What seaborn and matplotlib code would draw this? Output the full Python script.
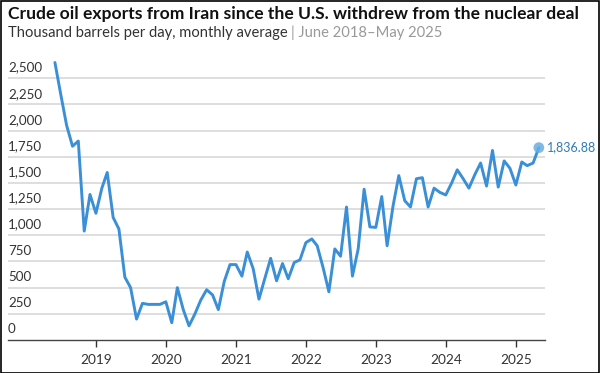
import pandas as pd
import matplotlib.pyplot as plt
import matplotlib.dates as mdates
from matplotlib.patches import Rectangle
import seaborn as sns

# monthly exports, thousand barrels per day (June 2018 - May 2025)
months = pd.date_range("2018-06-01", "2025-05-01", freq="MS")
exports = [
    2650, 2350, 2050, 1850, 1900, 1040, 1390, 1210, 1450, 1600, 1170, 1060,
    600, 500, 200, 350, 340, 340, 340, 365, 165, 500, 290, 135,
    250, 380, 480, 430, 290, 560, 720, 720, 610, 840, 680, 390,
    590, 780, 565, 730, 585, 740, 765, 930, 965, 900, 690, 460,
    870, 800, 1270, 610, 870, 1440, 1080, 1075, 1370, 900, 1280, 1570,
    1330, 1270, 1540, 1550, 1270, 1450, 1410, 1385, 1500, 1625, 1540, 1450,
    1580, 1690, 1470, 1810, 1460, 1710, 1640, 1480, 1700, 1665, 1690, 1836.88,
]
y_ticks = [0, 250, 500, 750, 1000, 1250, 1500, 1750, 2000, 2250, 2500]
year_ticks = [2019, 2020, 2021, 2022, 2023, 2024, 2025]

df = pd.DataFrame({"month": months, "exports": exports})

sns.set_theme(style="white")
plt.rcParams["font.family"] = ["Lato", "DejaVu Sans"]

line_color = "#3a8fd6"

fig = plt.figure(figsize=(6, 3.73), dpi=100)
ax = fig.add_axes([0.0133, 0.0885, 0.895, 0.758])

sns.lineplot(data=df, x="month", y="exports", ax=ax, color=line_color,
             linewidth=2.1, solid_joinstyle="round", solid_capstyle="round")

# last point marker and label
last = df.iloc[-1]
ax.scatter([last["month"]], [last["exports"]], s=60, color="#6aaee0",
           alpha=0.85, zorder=5, edgecolor="none")
ax.annotate(f"{last['exports']:,.2f}", (last["month"], last["exports"]),
            xytext=(6, 0), textcoords="offset points", va="center",
            ha="left", fontsize=9, color="#2f7ab8", annotation_clip=False)

ax.set_xlim(pd.Timestamp("2017-09-29"), pd.Timestamp("2025-06-02"))
ax.set_ylim(0, 2700)

# gridlines + labels sitting above each line
for v in y_ticks[1:]:
    ax.axhline(v, color="#dedede", linewidth=1.4, zorder=0)
for v in y_ticks:
    ax.text(0.0, v + 45, f"{v:,}", transform=ax.get_yaxis_transform(),
            ha="left", va="bottom", fontsize=9.6, color="#333333")

ax.set_yticks([])
ax.set_xticks([pd.Timestamp(f"{yr}-01-01") for yr in year_ticks])
ax.xaxis.set_major_formatter(mdates.DateFormatter("%Y"))
ax.tick_params(axis="x", length=5, width=1, color="#333333", labelsize=9.8,
               labelcolor="#333333", pad=5, bottom=True, direction="out")
ax.set_xlabel("")
ax.set_ylabel("")

for side in ["top", "right", "left"]:
    ax.spines[side].set_visible(False)
ax.spines["bottom"].set_color("#444444")
ax.spines["bottom"].set_linewidth(1)

fig.text(0.013, 0.962, "Crude oil exports from Iran since the U.S. withdrew from the nuclear deal",
         fontsize=12.6, fontweight="bold", color="#111111", va="center", ha="left")
t1 = fig.text(0.013, 0.912, "Thousand barrels per day, monthly average ",
              fontsize=10.6, color="#333333", va="center", ha="left")
fig.canvas.draw()
bb = t1.get_window_extent()
fig.text(bb.x1 / fig.bbox.width, 0.912, "| June 2018\u2013May 2025",
         fontsize=10.6, color="#999999", va="center", ha="left")

fig.add_artist(Rectangle((0.001, 0.001), 0.997, 0.996, transform=fig.transFigure,
                         fill=False, edgecolor="black", linewidth=1.2))

fig.savefig("out.png", dpi=100)
